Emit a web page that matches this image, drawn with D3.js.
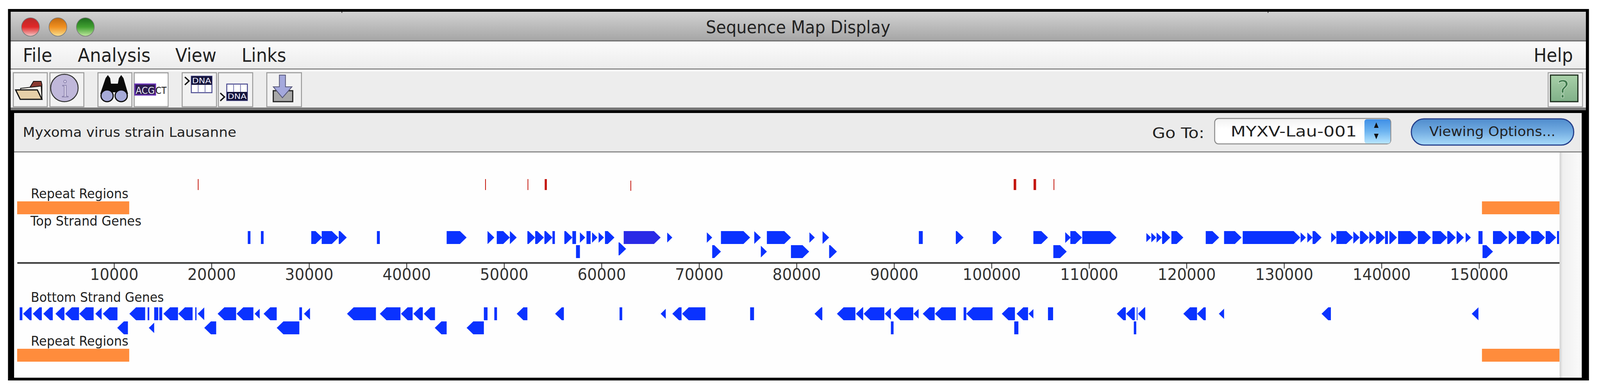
<!DOCTYPE html>
<html>
<head>
<meta charset="utf-8">
<title>Sequence Map Display</title>
<script src="https://cdnjs.cloudflare.com/ajax/libs/d3/7.8.5/d3.min.js"></script>
<style>
  html, body { margin: 0; padding: 0; background: #fff; overflow: hidden; width: 100%; height: 100%; }
  #my_dataviz { width: 100%; height: 100%; }
  svg { display: block; width: 100%; height: 100%; }
  text { font-family: "DejaVu Sans", sans-serif; }
</style>
</head>
<body>
<div id="my_dataviz"></div>
<script>
// all values in base pairs
var tickValues = [10000, 20000, 30000, 40000, 50000, 60000, 70000, 80000,
                  90000, 100000, 110000, 120000, 130000, 140000, 150000];

var repeatBlocks = [[62, 11556], [150300, 158263]];

// small repeats above the top strand
var repeatTicks = [[18590, 18670], [48060, 48140], [52410, 52490], [54170, 54390],
                   [102270, 102530], [104310, 104570], [106360, 106440]];
var repeatTicksLow = [[62960, 63040]];

// arrows point right
var topRow1 = [[30226, 31349], [31298, 33020], [33045, 33867], [44115, 46160], [48305, 49003],
  [49252, 50599], [50599, 51298], [52395, 53193], [53193, 54091], [54141, 54964], [56185, 57009],
  [57782, 58331], [59029, 59578], [59702, 60251], [60351, 61323], [66735, 67259], [70800, 71350],
  [72247, 75240], [75664, 76338], [76958, 79427], [81322, 81871], [82669, 83342], [96336, 97134],
  [100127, 101075], [104292, 105789], [107559, 108133], [108083, 109280], [109305, 112822],
  [115880, 116358], [116388, 116895], [116925, 117462], [117492, 118328], [118447, 119671],
  [121970, 123343], [123850, 125641], [125761, 131671], [131701, 132238], [132388, 132925],
  [132925, 133850], [134835, 135372], [135372, 137074], [137104, 137760], [137790, 138716],
  [138746, 139402], [139432, 140357], [140805, 141581], [141701, 143641], [143730, 145074],
  [145223, 146745], [146745, 147611], [147701, 148447], [148626, 149163], [151431, 152924],
  [153044, 153820], [153880, 155282], [155342, 156775], [156835, 157909]];
var topRow1Bars = [[23717, 23990], [25064, 25338], [36960, 37259], [54964, 55213], [57009, 57383],
  [58456, 58879], [92545, 92945], [140357, 140656], [149940, 150358], [157999, 158208]];
var topSelected = [[62272, 66062]];

var topRow2 = [[71350, 72247], [76338, 76958], [79427, 81297], [83342, 84140], [106338, 107710],
  [150358, 151431]];
var topRow2Bars = [[57383, 57782]];
var topRow2Raised = [[61748, 62521]];

// arrows point left
var bottomRow1 = [[672, 1545], [1670, 2593], [2742, 3715], [3989, 4912], [4987, 6409], [6433, 7905],
  [8079, 8728], [8853, 10349], [11571, 13192], [15063, 16559], [16584, 18056], [18579, 19252],
  [20624, 22519], [22569, 24291], [24415, 24939], [25338, 26684], [29478, 30100], [33892, 36860],
  [37259, 39376], [39426, 40623], [40698, 41671], [41770, 42918], [51298, 52395], [55238, 56136],
  [66062, 66586], [67259, 68207], [68256, 70651], [81846, 82644], [84141, 86036], [86086, 86834],
  [86884, 89004], [89054, 89677], [89951, 91972], [91997, 92520], [92944, 94166], [94191, 96336],
  [97409, 100102], [101050, 102397], [102571, 103744], [103793, 104292], [112847, 113770],
  [113794, 114692], [115017, 115761], [119671, 121074], [121074, 121970], [123313, 123850],
  [133850, 134805], [149253, 149940]];
var bottomRow1Bars = [[323, 597], [13442, 13616], [14115, 14539], [14639, 14938], [18330, 18455],
  [29004, 29278], [47931, 48305], [49003, 49277], [61847, 62121], [75240, 75639], [97134, 97409],
  [105789, 106313], [114892, 114967]];

var bottomRow2 = [[10324, 11421], [13566, 14115], [19252, 20475], [26684, 29004], [42893, 44115],
  [46160, 47931]];
var bottomRow2Bars = [[89677, 89951], [102329, 102753], [114593, 114843]];

var menuLeft = [["File", 60, 77], ["Analysis", 204, 191], ["View", 460, 108], ["Links", 634, 117]];

var blue = "#0a32ff";
var orange = "#ff8c3c";
var red = "#c4160c";

// drawn in the 4198x1000 space of the reference, stretched to whatever the window really is
var svg = d3.select("#my_dataviz")
  .append("svg")
    .attr("viewBox", "0 0 4198 1000")
    .attr("preserveAspectRatio", "none");

var defs = svg.append("defs");

function gradient(id, stops, horizontal) {
  var g = defs.append("linearGradient").attr("id", id)
    .attr("x1", 0).attr("y1", 0)
    .attr("x2", horizontal ? 1 : 0).attr("y2", horizontal ? 0 : 1);
  stops.forEach(function(s) {
    g.append("stop").attr("offset", s[0]).attr("stop-color", s[1]);
  });
}
gradient("titleBar", [[0, "#d2d2d2"], [1, "#a6a6a6"]]);
gradient("menuBar", [[0, "#fbfbfb"], [1, "#ececec"]]);
gradient("scrollBar", [[0, "#d0d0d0"], [0.14, "#efefef"], [1, "#fbfbfb"]], true);
gradient("combo", [[0, "#f2f2f2"], [0.4, "#ffffff"], [1, "#ffffff"]]);
gradient("stepper", [[0, "#3f8fe6"], [0.5, "#6db4f0"], [1, "#b8e6ff"]]);
gradient("pill", [[0, "#4f8ccd"], [0.5, "#74ade2"], [1, "#a9dcfa"]]);
gradient("redLight", [[0, "#b82828"], [0.5, "#e02828"], [1, "#f4c8c8"]]);
gradient("amberLight", [[0, "#c06810"], [0.5, "#f09020"], [1, "#f8e090"]]);
gradient("greenLight", [[0, "#1c6a1c"], [0.5, "#40a030"], [1, "#c0e8a0"]]);
gradient("helpIcon", [[0, "#a8d0a8"], [1, "#80b088"]]);

// ---------- window frame ----------
var chrome = svg.append("g").attr("class", "chrome");
function box(g, x, y, w, h, fill, stroke, sw, rx) {
  return g.append("rect").attr("x", x).attr("y", y).attr("width", w).attr("height", h)
    .attr("fill", fill).attr("stroke", stroke || "none").attr("stroke-width", sw || 0)
    .attr("rx", rx || 0);
}
function label(g, str, x, y, size, len, fill) {
  var t = g.append("text").attr("x", x).attr("y", y).attr("font-size", size)
    .attr("fill", fill || "#222").text(str);
  if (len) t.attr("textLength", len).attr("lengthAdjust", "spacingAndGlyphs");
  return t;
}

box(chrome, 21, 23, 4148, 950, "#000");
box(chrome, 28, 30, 4133, 73, "url(#titleBar)");
box(chrome, 28, 103, 4133, 3, "#6e6e6e");
box(chrome, 28, 106, 4133, 69, "url(#menuBar)");
box(chrome, 28, 175, 4133, 3, "#8a8a8a");
box(chrome, 28, 178, 4133, 97, "#ededed");
box(chrome, 28, 178, 4133, 5, "#fafafa");
box(chrome, 28, 275, 4133, 7, "#777");
box(chrome, 37, 289, 4113, 98, "#ebebeb");
box(chrome, 37, 387, 4113, 3, "#8a8a8a");
box(chrome, 37, 390, 4113, 576, "#fefefe");
box(chrome, 896, 30, 2, 3, "#333");
box(chrome, 3326, 30, 2, 3, "#333");

[[80, "redLight"], [152, "amberLight"], [224, "greenLight"]].forEach(function(d) {
  chrome.append("circle").attr("cx", d[0]).attr("cy", 69).attr("r", 23.5)
    .attr("fill", "url(#" + d[1] + ")").attr("stroke", "#777").attr("stroke-width", 1.5);
});

label(chrome, "Sequence Map Display", 1852, 85, 44, 484);

menuLeft.forEach(function(m) { label(chrome, m[0], m[1], 158, 48, m[2]); });
label(chrome, "Help", 4024, 158, 48, 103);

// toolbar buttons
[[35, 89], [131, 89], [257, 89], [352, 89], [478, 90], [573, 90], [700, 91]].forEach(function(b) {
  box(chrome, b[0], 186, b[1], 87, "#f2f2f2", "#9a9a9a", 2.5);
});
box(chrome, 4062, 186, 90, 87, "#f6f6f6", "#a0a0a0", 2.5);
box(chrome, 4068, 192, 72, 68, "url(#helpIcon)", "#1c2c1c", 3);
label(chrome, "?", 4085, 250, 62, null, "#3f7a4c").attr("stroke", "#d8ecd8").attr("stroke-width", 1);

// folder
chrome.append("path").attr("d", "M83,216 L88,208 L108,208 L110,216 L110,254 L60,254 Z").attr("fill", "#8a3a30").attr("stroke", "#111").attr("stroke-width", 2);
chrome.append("path").attr("d", "M54,226 L108,220 L110,252 L56,252 Z").attr("fill", "#f4f0e8").attr("stroke", "#111").attr("stroke-width", 2);
chrome.append("path").attr("d", "M41,230 L98,230 L110,254 L53,254 Z").attr("fill", "#e6cfa8").attr("stroke", "#111").attr("stroke-width", 3);

// info
chrome.append("ellipse").attr("cx", 169).attr("cy", 225).attr("rx", 36).attr("ry", 35)
  .attr("fill", "#c0b8da").attr("stroke", "#333").attr("stroke-width", 2.5);
chrome.append("text").attr("x", 171).attr("y", 248).attr("font-size", 66).attr("text-anchor", "middle")
  .style("font-family", "'Liberation Serif', serif")
  .attr("fill", "#d6cfe8").attr("stroke", "#8078a4").attr("stroke-width", 1.5).text("i");

// binoculars
chrome.append("path").attr("d", "M277,200 L283,192 L289,200 L295,240 L263,240 Z M312,200 L318,192 L324,200 L336,240 L304,240 Z M290,214 L312,214 L312,236 L290,236 Z").attr("fill", "#0a0a0a");
[281, 318].forEach(function(cx) {
  chrome.append("ellipse").attr("cx", cx).attr("cy", 245).attr("rx", 16).attr("ry", 15)
    .attr("fill", "#a6aad8").attr("stroke", "#0a0a0a").attr("stroke-width", 3);
});

// ACGCT
box(chrome, 354, 190, 86, 80, "#ffffff");
box(chrome, 354, 215, 54, 28, "#2c1c50", "#6a30b8", 3);
label(chrome, "ACG", 356, 240, 24, 50, "#e8e8f0");
label(chrome, "CT", 408, 240, 24, 29, "#111");

// DNA tables
function dnaIcon(gx, tableY, dnaOnTop, arrowY) {
  var g = chrome.append("g");
  box(g, gx + 24, tableY, 54, 42, "#ffffff", "#4a4a90", 2.5);
  box(g, gx + 24, dnaOnTop ? tableY : tableY + 20, 54, 22, "#14143c");
  [42, 60].forEach(function(dx) {
    g.append("line").attr("x1", gx + dx).attr("x2", gx + dx)
      .attr("y1", dnaOnTop ? tableY + 22 : tableY).attr("y2", dnaOnTop ? tableY + 42 : tableY + 20)
      .attr("stroke", "#7a7ab0").attr("stroke-width", 2);
  });
  label(g, "DNA", gx + 26, tableY + (dnaOnTop ? 18 : 38), 19, 50, "#eef");
  g.append("path").attr("d", "M" + (gx + 7) + "," + arrowY + " l11,10 l-11,10")
    .attr("fill", "none").attr("stroke", "#111").attr("stroke-width", 3.5);
}
dnaIcon(478, 195, true, 197);
dnaIcon(571, 215, false, 238);

// download arrow
box(chrome, 717, 232, 51, 28, "#a8a8a8", "#222", 3);
chrome.append("path").attr("d", "M733,192 L749,192 L749,222 L766,222 L741,250 L717,222 L733,222 Z")
  .attr("fill", "#a4a8dc").attr("stroke", "#555577").attr("stroke-width", 2);

// info panel
label(chrome, "Myxoma virus strain Lausanne", 60, 350, 34, 560);
label(chrome, "Go To:", 3023, 353, 38, 137);
box(chrome, 3187, 303, 462, 65, "url(#combo)", "#8a8a8a", 2.5, 10);
box(chrome, 3580, 305, 68, 62, "url(#stepper)", null, 0, 6);
label(chrome, "MYXV-Lau-001", 3229, 349, 38, 331);
chrome.append("path").attr("d", "M3611,313 l-6,14 l12,0 Z M3611,356 l-6,-14 l12,0 Z").attr("fill", "#111");
box(chrome, 3703, 304, 426, 67, "url(#pill)", "#26408c", 3, 33);
label(chrome, "Viewing Options...", 3750, 348, 34, 331);

// ---------- the map ----------
var x = d3.scaleLinear().domain([62, 158263]).range([45, 4092]);

var headPx = 17.5, geneH = 33;
var rows = { top1: 591, top2: 627, top2Raised: 620, bottom1: 786, bottom2: 822 };

var map = svg.append("g").attr("class", "map");

defs.append("clipPath").attr("id", "mapClip").append("rect")
  .attr("x", 40).attr("y", 390).attr("width", 4052).attr("height", 576);
map.attr("clip-path", "url(#mapClip)");

// arrow clipped at its tail, short genes come out as smaller triangles
function arrowPath(d, y, dir) {
  var tail = x(dir > 0 ? d[0] : d[1]), tip = x(dir > 0 ? d[1] : d[0]);
  var len = Math.abs(tip - tail), mid = y + geneH / 2;
  if (len < headPx) {
    var half = geneH / 2 * len / headPx;
    return "M" + tail + "," + (mid - half) + "L" + tip + "," + mid + "L" + tail + "," + (mid + half) + "Z";
  }
  var neck = tip - dir * headPx;
  return "M" + tail + "," + y + "L" + neck + "," + y + "L" + tip + "," + mid +
         "L" + neck + "," + (y + geneH) + "L" + tail + "," + (y + geneH) + "Z";
}

function drawArrows(data, y, dir, fill) {
  map.append("g").selectAll("path").data(data).enter().append("path")
    .attr("d", function(d) { return arrowPath(d, y, dir); })
    .attr("fill", fill || blue);
}
function drawBars(data, y, h, fill) {
  map.append("g").selectAll("rect").data(data).enter().append("rect")
    .attr("x", function(d) { return x(d[0]); })
    .attr("y", y)
    .attr("width", function(d) { return x(d[1]) - x(d[0]); })
    .attr("height", h)
    .attr("fill", fill);
}

drawBars(repeatBlocks, 515, 33, orange);
drawBars(repeatBlocks, 892, 33, orange);
drawBars(repeatTicks, 458, 28, red);
drawBars(repeatTicksLow, 462, 26, red);

drawArrows(topRow1, rows.top1, 1);
drawBars(topRow1Bars, rows.top1, geneH, blue);
drawArrows(topSelected, rows.top1, 1, "#2a2ae6");
drawArrows(topRow2, rows.top2, 1);
drawBars(topRow2Bars, rows.top2, geneH, blue);
drawArrows(topRow2Raised, rows.top2Raised, 1);

drawArrows(bottomRow1, rows.bottom1, -1);
drawBars(bottomRow1Bars, rows.bottom1, geneH, blue);
drawArrows(bottomRow2, rows.bottom2, -1);
drawBars(bottomRow2Bars, rows.bottom2, geneH, blue);

// position axis
var axis = map.append("g")
  .attr("class", "axis")
  .attr("transform", "translate(0,672)")
  .call(d3.axisBottom(x).tickValues(tickValues).tickFormat(d3.format("d")).tickSize(15).tickSizeOuter(0).tickPadding(0));
axis.select(".domain").attr("stroke", "#333").attr("stroke-width", 4);
axis.selectAll(".tick line").attr("stroke", "#222").attr("stroke-width", 2);
axis.selectAll(".tick text")
  .attr("font-size", 40)
  .attr("font-family", "DejaVu Sans")
  .attr("fill", "#333")
  .attr("dy", null)
  .attr("y", 44);

// row captions
label(map, "Repeat Regions", 81, 507, 33, 256);
label(map, "Top Strand Genes", 80, 577, 33, 291);
label(map, "Bottom Strand Genes", 81, 772, 33, 349);
label(map, "Repeat Regions", 81, 884, 33, 256);

// scroll bar sits on top of the map
box(svg, 4092, 390, 58, 576, "url(#scrollBar)");

</script>
</body>
</html>
